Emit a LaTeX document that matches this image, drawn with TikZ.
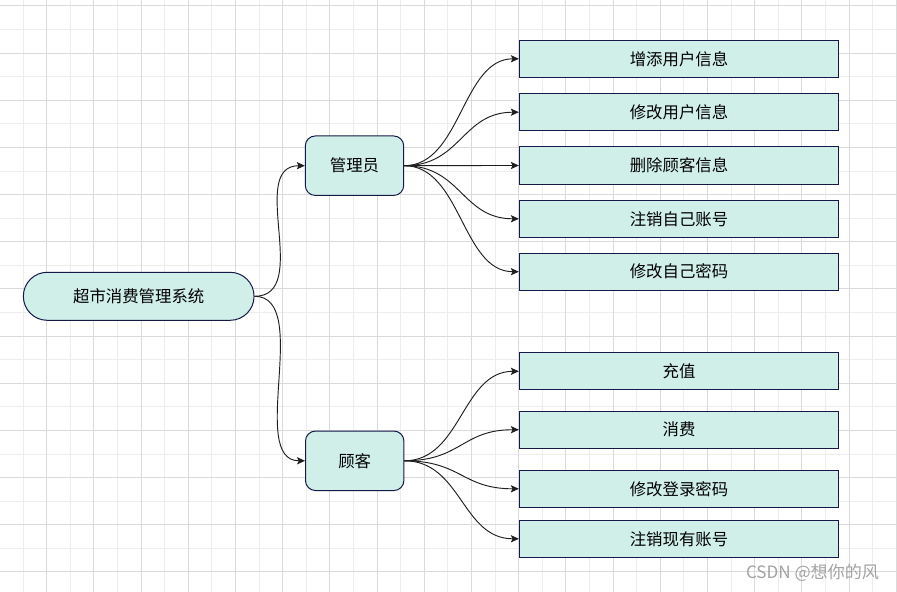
\documentclass[tikz,border=0pt]{standalone}
\usepackage{fontspec}
\newfontfamily\cjk{Noto Sans CJK SC}
\usetikzlibrary{arrows.meta}
\definecolor{gridfaint}{HTML}{EDEDED}
\definecolor{griddark}{HTML}{DADADA}
\definecolor{boxfill}{HTML}{D1EFE9}
\definecolor{boxline}{HTML}{15194A}
\definecolor{edgecol}{HTML}{1E1E1E}
\definecolor{wmark}{HTML}{A3A3A3}
\tikzset{
  base/.style={draw=boxline, fill=boxfill, line width=0.75pt, inner sep=0pt,
    font=\cjk\fontsize{12.3}{14}\selectfont, text=black},
  leafbox/.style={base, rectangle, minimum width=239.5pt, minimum height=27.75pt},
  rolebox/.style={base, rectangle, rounded corners=7.5pt, minimum width=73.8pt, minimum height=44.6pt},
  rootbox/.style={base, rectangle, rounded corners=17.9pt, minimum width=173pt, minimum height=36pt},
  arr/.style={draw=edgecol, line width=0.7pt, -{Stealth[length=6pt, width=5.4pt, inset=1.3pt]}},
}
\begin{document}
\begin{tikzpicture}[x=0.75pt,y=-0.75pt]
\useasboundingbox (0,0) rectangle (897,592);
\fill[white] (0,0) rectangle (897,592);
% grid
\foreach \k in {1,3,...,37} {\draw[gridfaint, line width=0.75pt] ({23.6*\k-0.5},0) -- ({23.6*\k-0.5},592);}
\foreach \k in {1,3,...,25} {\draw[gridfaint, line width=0.75pt] (0,{6+23.58*\k}) -- (897,{6+23.58*\k});}
\foreach \k in {2,4,...,38} {\draw[griddark, line width=0.75pt] ({23.6*\k-0.5},0) -- ({23.6*\k-0.5},592);}
\foreach \k in {0,2,...,24} {\draw[griddark, line width=0.75pt] (0,{6+23.58*\k}) -- (897,{6+23.58*\k});}

% nodes
\node[rootbox] (root) at (138.7,296.3) {超市消费管理系统};
\node[rolebox] (adm) at (354.5,165.7) {管理员};
\node[rolebox] (cus) at (354.7,460.8) {顾客};

\node[leafbox] (a1) at (679,58.8) {增添用户信息};
\node[leafbox] (a2) at (679,112.2) {修改用户信息};
\node[leafbox] (a3) at (679,165.5) {删除顾客信息};
\node[leafbox] (a4) at (679,218.8) {注销自己账号};
\node[leafbox] (a5) at (679,271.7) {修改自己密码};

\node[leafbox] (c1) at (679,371.3) {充值};
\node[leafbox] (c2) at (679,429.7) {消费};
\node[leafbox] (c3) at (679,488.8) {修改登录密码};
\node[leafbox] (c4) at (679,538.8) {注销现有账号};

% edges
\draw[arr] (root.east) .. controls +(58,0) and +(-58,0) .. (adm.west);
\draw[arr] (root.east) .. controls +(58,0) and +(-58,0) .. (cus.west);
\foreach \t in {a1,a2,a3,a4,a5} {
  \draw[arr] (adm.east) .. controls +(57,0) and +(-57,0) .. (\t.west);
}
\foreach \t in {c1,c2,c3,c4} {
  \draw[arr] (cus.east) .. controls +(57,0) and +(-57,0) .. (\t.west);
}

% watermark
\node[font=\cjk\fontsize{12.8}{15}\selectfont, text=wmark, inner sep=0pt] (wm) at (812.5,573) {CSDN @想你的风};
\end{tikzpicture}
\end{document}
